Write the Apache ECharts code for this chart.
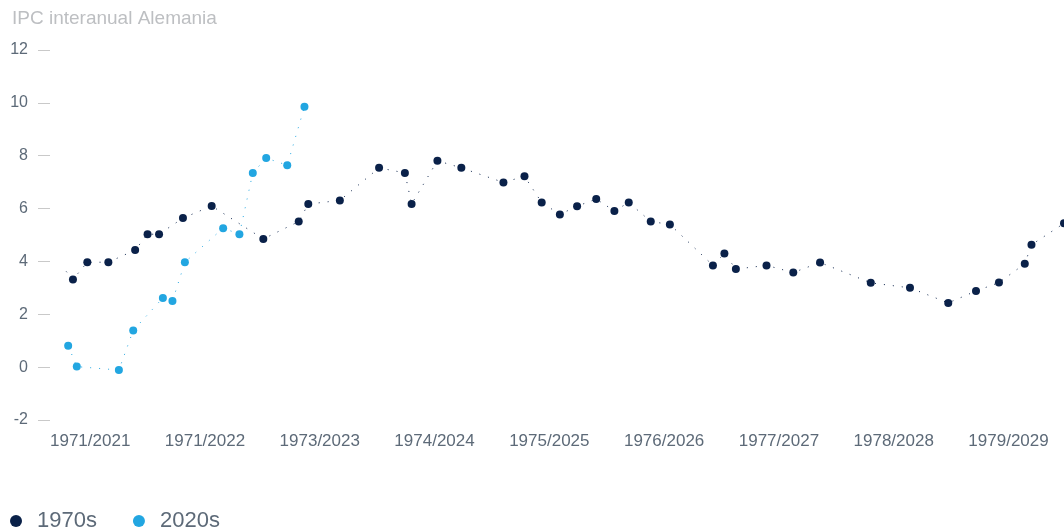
<!DOCTYPE html>
<html>
<head>
<meta charset="utf-8">
<script src="https://cdn.jsdelivr.net/npm/echarts@6/dist/echarts.min.js"></script>
<style>
  html, body { margin: 0; padding: 0; background: #fff; }
  #chart { width: 1064px; height: 531px; }
</style>
</head>
<body>
<div id="chart"></div>
<script>
  // x = months from the first labelled year, y = % yoy
  var yearLabels = ['1971/2021', '1971/2022', '1973/2023', '1974/2024', '1975/2025',
                    '1976/2026', '1977/2027', '1978/2028', '1979/2029'];
  var labelMonths = [0, 12, 24, 36, 48, 60, 72, 84, 96];

  var x1970s = [-2.5, -1.8, -0.3, 1.9, 4.7, 6.0, 7.2, 9.7, 12.7, 18.1, 21.8, 22.8, 26.1,
                30.2, 32.9, 33.6, 36.3, 38.8, 43.2, 45.4, 47.2, 49.1, 50.9, 52.9, 54.8,
                56.3, 58.6, 60.6, 65.1, 66.3, 67.5, 70.7, 73.5, 76.3, 81.6, 85.7, 89.7,
                92.6, 95.0, 97.7, 98.4, 101.8];
  var y1970s = [3.62, 3.32, 3.97, 3.97, 4.43, 5.03, 5.03, 5.64, 6.10, 4.85, 5.51, 6.17, 6.31,
                7.54, 7.35, 6.17, 7.81, 7.54, 6.99, 7.22, 6.23, 5.78, 6.09, 6.36, 5.91,
                6.23, 5.51, 5.40, 3.85, 4.30, 3.71, 3.85, 3.58, 3.96, 3.19, 3.00, 2.43,
                2.88, 3.20, 3.91, 4.63, 5.44];

  var x2020s = [-2.3, -1.4, 3.0, 4.5, 7.6, 8.6, 9.9, 13.9, 15.6, 17.0, 18.4, 20.6, 22.4];
  var y2020s = [0.81, 0.02, -0.11, 1.39, 2.62, 2.50, 3.97, 5.26, 5.03, 7.35, 7.91, 7.64, 9.85];

  var navy = '#0a2149';
  var sky = '#22a6e1';
  var grey = '#5d6a78';
  var font = 'Liberation Sans';

  function pairs(xs, ys) {
    var out = [];
    for (var i = 0; i < xs.length; i++) out.push([xs[i], ys[i]]);
    return out;
  }

  var data1970s = pairs(x1970s, y1970s);
  // the dotted line starts before the first dot
  data1970s[0] = { value: data1970s[0], symbol: 'none' };

  var chart = echarts.init(document.getElementById('chart'));
  chart.setOption({
    animation: false,
    textStyle: { fontFamily: font },
    title: {
      text: 'IPC interanual Alemania',
      left: 7, top: 4,
      textStyle: { fontSize: 19, fontWeight: 'normal', color: '#bdbfc2', fontFamily: font }
    },
    legend: {
      left: 5, top: 505,
      icon: 'circle',
      itemWidth: 12, itemHeight: 12,
      itemGap: 36,
      textStyle: { fontSize: 22, color: grey, fontFamily: font, padding: [0, 0, 0, 10] },
      data: ['1970s', '2020s']
    },
    grid: { left: 50, right: 0, top: 50, bottom: 111, containLabel: false },
    xAxis: {
      type: 'value',
      min: -4.2, max: 101.8,
      axisLine: { show: false },
      axisTick: { show: false },
      splitLine: { show: false },
      axisLabel: {
        customValues: labelMonths,
        formatter: function (v) { return yearLabels[Math.round(v / 12)]; },
        color: grey, fontSize: 17, margin: 13, fontFamily: font
      }
    },
    yAxis: {
      type: 'value',
      min: -2, max: 12, interval: 2,
      axisLine: { show: false, onZero: false },
      axisTick: { show: true, length: 12, lineStyle: { color: '#c9c9c9', width: 1 } },
      splitLine: { show: false },
      axisLabel: { color: grey, fontSize: 16, margin: 22, fontFamily: font }
    },
    series: [
      {
        name: '1970s',
        type: 'line',
        data: data1970s,
        symbol: 'circle',
        symbolSize: 8,
        showAllSymbol: true,
        itemStyle: { color: navy },
        lineStyle: { color: navy, width: 1, type: [1, 8] }
      },
      {
        name: '2020s',
        type: 'line',
        data: pairs(x2020s, y2020s),
        symbol: 'circle',
        symbolSize: 8,
        showAllSymbol: true,
        itemStyle: { color: sky },
        lineStyle: { color: sky, width: 1, type: [1, 8] }
      }
    ]
  });
</script>
</body>
</html>
